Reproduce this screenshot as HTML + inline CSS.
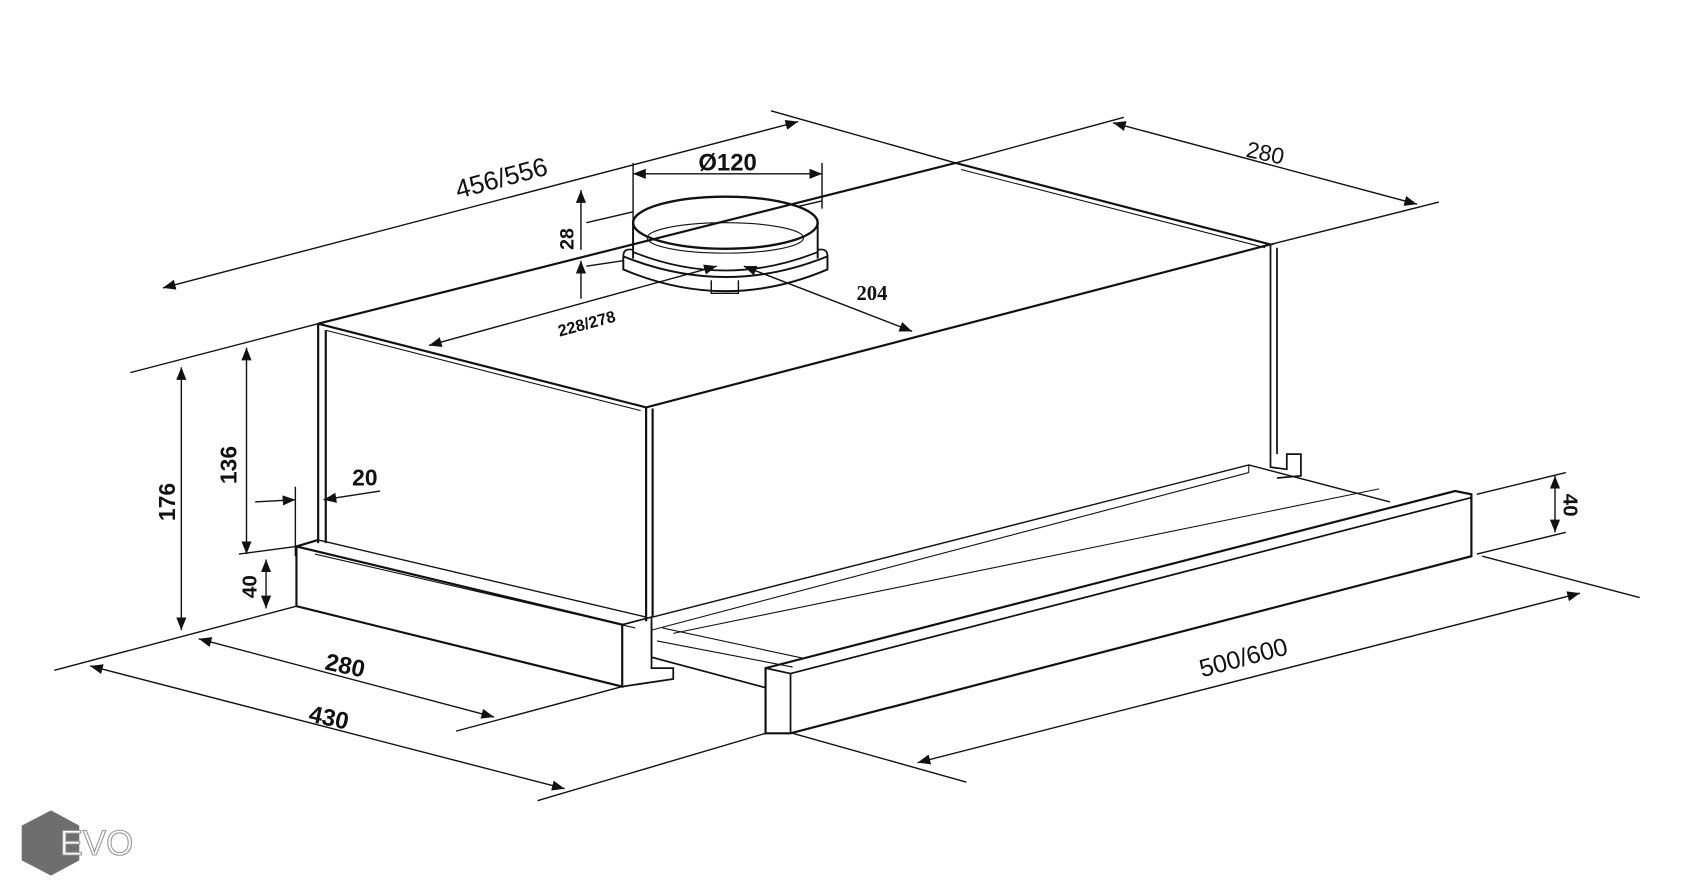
<!DOCTYPE html>
<html><head><meta charset="utf-8"><style>
html,body{margin:0;padding:0;background:#fff;}
svg{display:block}
text{font-family:"Liberation Sans",Arial,sans-serif;font-weight:bold;fill:#111}
</style></head><body>
<svg width="1694" height="893" viewBox="0 0 1560 822" preserveAspectRatio="none" xmlns="http://www.w3.org/2000/svg">
<defs>
<marker id="a" viewBox="0 0 10 10" refX="10" refY="5" markerWidth="9" markerHeight="9" orient="auto-start-reverse"><path d="M0,1 L10,5 L0,9 z" fill="#111"/></marker>
</defs>
<g stroke="#111" fill="none" stroke-width="1.3">
<path d="M293,298 L880,150 L1170,225 L595,375 Z" stroke-width="2"/>
<path d="M300,304 L590,378" stroke-width="1"/>
<path d="M885,156 L1165,228" stroke-width="1"/>
<path d="M293,298 L293,500 M300,304 L300,500" stroke-width="2"/>
<path d="M595,375 L595,572 M601,376 L601,568" stroke-width="2"/>
<path d="M1170,225 L1170,420 M1176,228 L1176,418" stroke-width="1.6"/>
<path d="M293,497 L595,568" />
<path d="M273,503 L293,497 M273,503 L573,575 L573,632 L273,558 Z" stroke-width="2"/>
<path d="M290,510 L585,578" stroke-width="1"/>
<path d="M573,575 L600,568 L600,615 L620,615 L620,625 L573,632" stroke-width="1.6"/>
<path d="M1170,420 L1170,430 L1185,432 L1185,418 L1198,418 L1198,438 L1176,440" stroke-width="1.6"/>
<path d="M601,568 L1150,428 L1280,462" />
<path d="M600,580 L1150,435 M1150,428 L1150,435" stroke-width="1"/>
<path d="M600,573 L600,605 L705,633" stroke-width="1.6"/>
<path d="M610,578 L740,606 M605,590 L730,614" stroke-width="1"/>
<path d="M620,583 L1270,450" stroke-width="1"/>
<path d="M705,615 L1340,452 L1355,455 L1355,512 L728,675 L705,675 Z" stroke-width="2"/>
<path d="M705,615 L728,620 L728,675 M728,620 L1355,458" stroke-width="1.6"/>
<!-- duct -->
<ellipse cx="668" cy="205" rx="85" ry="24" stroke-width="2.2"/>
<ellipse cx="668" cy="219" rx="72" ry="14" stroke-width="1"/>
<path d="M583,205 L583,238 M753,205 L753,238" stroke-width="1.8"/>
<path d="M583,232 Q668,266 753,232" stroke-width="1.6"/>
<path d="M574,236 Q574,228 583,230 M762,236 Q762,228 753,230" stroke-width="1.6"/>
<path d="M574,236 L574,248 Q668,288 762,248 L762,236 Q668,274 574,236" stroke-width="1.8"/>
<path d="M655,258 L655,270 L680,270 L680,258"/>
<path d="M535,175 L535,230" marker-start="url(#a)"/>
<path d="M150,265 L735,112" marker-start="url(#a)" marker-end="url(#a)"/>
<path d="M120,343 L293,298 M710,102 L880,150 L1035,108 M1170,225 L1325,186"/>
<path d="M1025,113 L1305,188" marker-start="url(#a)" marker-end="url(#a)"/>
<path d="M583,160 L757,160" marker-start="url(#a)" marker-end="url(#a)"/>
<path d="M583,150 L583,205 M757,150 L757,192 M735,190 L757,185"/>
<path d="M535,240 L535,275" marker-start="url(#a)"/>
<path d="M540,205 L583,195 M540,245 L574,240"/>
<path d="M395,318 L660,245" marker-start="url(#a)" marker-end="url(#a)"/>
<path d="M685,245 L840,305" marker-start="url(#a)" marker-end="url(#a)"/>
<path d="M227,320 L227,510" marker-start="url(#a)" marker-end="url(#a)"/>
<path d="M167,338 L167,580" marker-start="url(#a)" marker-end="url(#a)"/>
<path d="M245,515 L245,560" marker-start="url(#a)" marker-end="url(#a)"/>
<path d="M220,510 L273,503"/>
<path d="M235,462 L272,460" marker-end="url(#a)"/>
<path d="M350,452 L298,460" marker-end="url(#a)"/>
<path d="M272,448 L272,512"/>
<path d="M183,588 L455,660" marker-start="url(#a)" marker-end="url(#a)"/>
<path d="M83,613 L520,726" marker-start="url(#a)" marker-end="url(#a)"/>
<path d="M50,617 L273,558 M420,673 L573,632 M495,737 L705,675 M730,675 L890,720"/>
<path d="M845,702 L1455,546" marker-start="url(#a)" marker-end="url(#a)"/>
<path d="M1365,512 L1510,550"/>
<path d="M1432,438 L1432,490" marker-start="url(#a)" marker-end="url(#a)"/>
<path d="M1360,455 L1442,435 M1360,510 L1442,490"/>
</g>
<g font-size="22">
<text x="462" y="172" transform="rotate(-15 462 165)" text-anchor="middle" font-size="24" style="font-weight:normal">456/556</text>
<text x="1165" y="148" transform="rotate(12 1165 142)" text-anchor="middle" font-size="21" style="font-weight:normal">280</text>
<text x="670" y="157" text-anchor="middle" font-size="22">Ø120</text>
<text x="520" y="228" transform="rotate(-90 520 220)" text-anchor="middle" font-size="18">28</text>
<text x="540" y="303" transform="rotate(-15 540 297)" text-anchor="middle" font-size="15">228/278</text>
<text x="803" y="276" text-anchor="middle" font-size="19" style="font-family:'Liberation Serif',serif">204</text>
<text x="210" y="436" transform="rotate(-90 210 428)" text-anchor="middle" font-size="21">136</text>
<text x="153" y="470" transform="rotate(-90 153 462)" text-anchor="middle" font-size="21">176</text>
<text x="228" y="548" transform="rotate(-90 228 540)" text-anchor="middle" font-size="19">40</text>
<text x="336" y="447" text-anchor="middle" font-size="21">20</text>
<text x="318" y="620" transform="rotate(12 318 612)" text-anchor="middle" font-size="22">280</text>
<text x="303" y="668" transform="rotate(12 303 660)" text-anchor="middle" font-size="22">430</text>
<text x="1145" y="613" transform="rotate(-15 1145 605)" text-anchor="middle" font-size="23" style="font-weight:normal">500/600</text>
<text x="1447" y="472" transform="rotate(90 1447 465)" text-anchor="middle" font-size="19">40</text>
</g>
<path d="M47,746 L73,760 L73,792 L47,806 L20,792 L20,760 Z" fill="#6e6e6e"/>
<text x="55" y="787" font-size="32" style="font-weight:normal;fill:#fff;stroke:#999;stroke-width:1">EVO</text>
</svg>
</body></html>
